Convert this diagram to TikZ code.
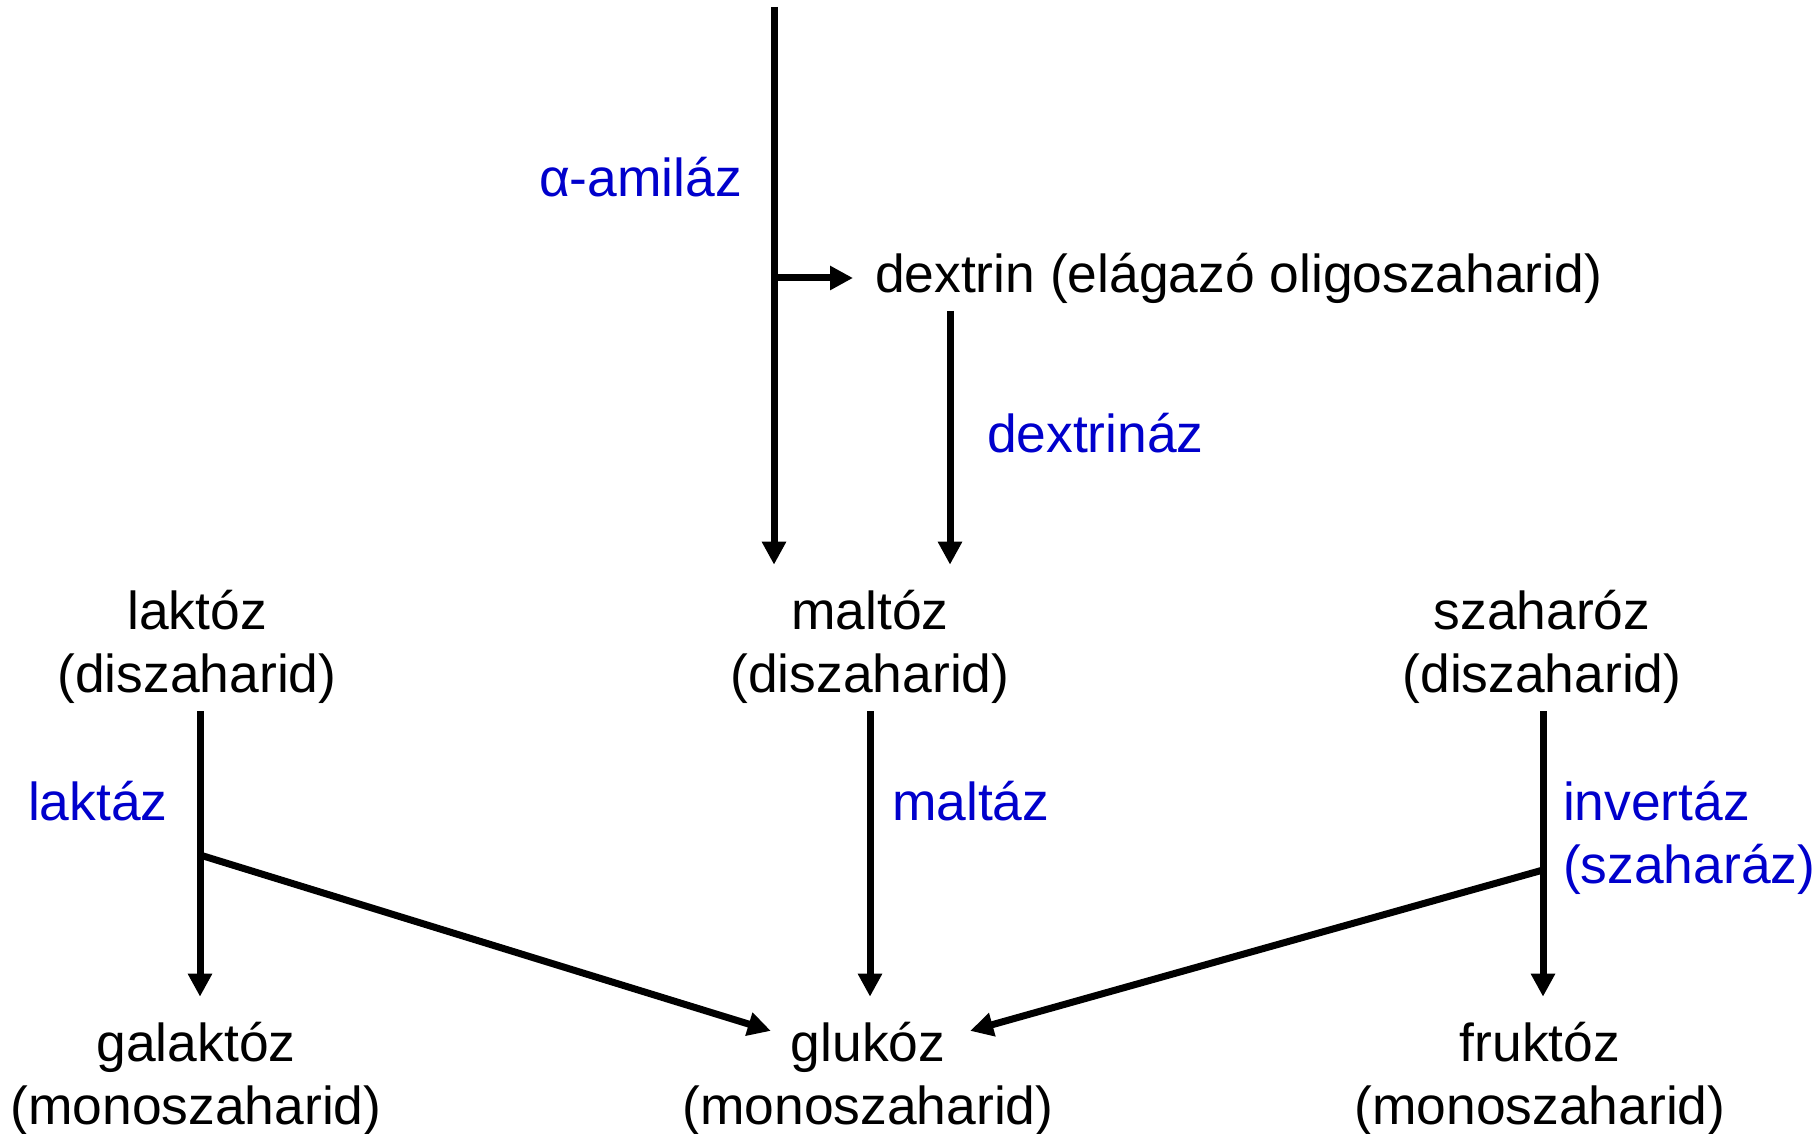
\documentclass[tikz,border=0pt]{standalone}
\usepackage{fontspec}
\setmainfont{Liberation Sans}
\usetikzlibrary{arrows.meta,calc}
\definecolor{enz}{RGB}{0,0,204}
\begin{document}
\begin{tikzpicture}[x=0.5pt,y=-0.5pt,
  every node/.style={inner sep=0pt,outer sep=0pt,font=\fontsize{26.7}{32}\selectfont},
  txt/.style={anchor=base,text=black},
  enzl/.style={anchor=base west,text=enz},
  ln/.style={line width=3.5pt,black},
  arr/.style={ln,-{Triangle[length=11.5pt,width=11.5pt]}}]
\fill[white] (0,0) rectangle (1816,1134);
\useasboundingbox (0,0) rectangle (1816,1134);
% labels
\node[enzl] (amil) at (539,197) {α-amiláz};
\node[anchor=west] (dex) at (875,278) {dextrin (elágazó oligoszaharid)};
\node[enzl] (dexz) at (987,452) {dextrináz};
\node[txt] (lak) at (197,629) {laktóz};
\node[txt] (lakd) at (197,692) {(diszaharid)};
\node[txt] (malt) at (870,629) {maltóz};
\node[txt] (maltd) at (870,692) {(diszaharid)};
\node[txt] (sza) at (1542,629) {szaharóz};
\node[txt] (szad) at (1542,692) {(diszaharid)};
\node[enzl] (laz) at (28,820) {laktáz};
\node[enzl] (maz) at (892,820) {maltáz};
\node[enzl] (inv) at (1563,820) {invertáz};
\node[enzl] (invd) at (1563,883) {(szaharáz)};
\node[txt] (gal) at (196,1061) {galaktóz};
\node[txt] (gald) at (196,1124) {(monoszaharid)};
\node[txt] (glu) at (868,1061) {glukóz};
\node[txt] (glud) at (868,1124) {(monoszaharid)};
\node[txt] (fru) at (1540,1061) {fruktóz};
\node[txt] (frud) at (1540,1124) {(monoszaharid)};
% coordinates
\coordinate (top) at (774,7);
\coordinate (b0) at (774,278);
\coordinate (dxs) at (950,311);
\coordinate (lb) at (200,855);
\coordinate (ib) at (1543,870);
% connectors
\draw[arr] (top) -- ($(top |- malt.north)+(0,12.5pt)$);
\draw[arr] (b0) -- ($(dex.west)+(-11pt,0)$);
\draw[arr] (dxs) -- ($(dxs |- malt.north)+(0,12.5pt)$);
\draw[arr] ($(lb |- lakd.south)+(0,-4pt)$) -- ($(lb |- gal.north)+(0,12.5pt)$);
\draw[arr] (lb) -- ($(glu.west)+(-10pt,8pt)$);
\draw[arr] ($(maltd.south)+(0,-4pt)$) -- ($(maltd.south |- glu.north)+(0,12.5pt)$);
\draw[arr] ($(ib |- szad.south)+(0,-4pt)$) -- ($(ib |- fru.north)+(0,12.5pt)$);
\draw[arr] (ib) -- ($(glu.east)+(12.5pt,8pt)$);
\end{tikzpicture}
\end{document}
